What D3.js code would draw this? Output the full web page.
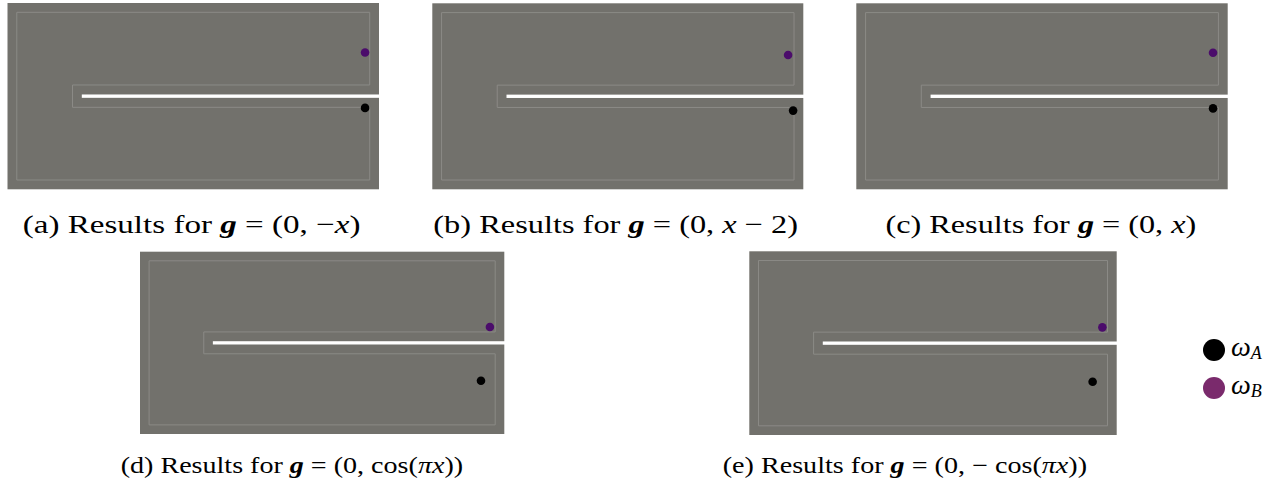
<html><head>
<title>Results panels</title>
<script src="https://d3js.org/d3.v7.min.js"></script>
<style>
  body { margin: 0; background: #fff; }
  .domain { fill: #72716c; }
  .slit { fill: #fff; }
  .outline { fill: none; stroke: #8b8a86; stroke-width: 1px; }
  .caption { font-family: "Liberation Serif", "DejaVu Serif", serif; font-size: 24px; fill: #000; }
  .legend text { font-family: "Liberation Serif", "DejaVu Serif", serif; fill: #000; }
</style>
</head>
<body>
<svg id="fig" width="1281" height="493"></svg>
<script>

// panel ids, in reading order
const panelIds = ["a", "b", "c", "d", "e"];

// position of the two points in each panel (domain is [0,2] x [0,1], y up)
const omegaA = [[1.925, 0.437], [1.945, 0.423], [1.921, 0.435], [1.872, 0.292], [1.869, 0.290]];
const omegaB = [[1.925, 0.734], [1.918, 0.722], [1.921, 0.734], [1.921, 0.587], [1.922, 0.586]];

// crack runs from x=0.4 to the right edge along y=0.5
const crackStart = 0.4;
const crackY = 0.5;
const crackHalf = 0.009;

// inner outline (thin line drawn inside the domain)
const outlinePts = [[0.05, 0.95], [1.95, 0.95], [1.95, 0.56], [0.35, 0.56], [0.35, 0.44],
                    [1.95, 0.44], [1.95, 0.05], [0.05, 0.05]];

// captions as [text, style] pieces; n = normal, i = italic, bi = bold italic
const captions = [
  [["(a) Results for ", "n"], ["g", "bi"], [" = (0, \u2212", "n"], ["x", "i"], [")", "n"]],
  [["(b) Results for ", "n"], ["g", "bi"], [" = (0, ", "n"], ["x", "i"], [" \u2212 2)", "n"]],
  [["(c) Results for ", "n"], ["g", "bi"], [" = (0, ", "n"], ["x", "i"], [")", "n"]],
  [["(d) Results for ", "n"], ["g", "bi"], [" = (0, cos(", "n"], ["\u03c0x", "i"], ["))", "n"]],
  [["(e) Results for ", "n"], ["g", "bi"], [" = (0, \u2212 cos(", "n"], ["\u03c0x", "i"], ["))", "n"]]
];

const legendLabels = ["A", "B"];
const legendColors = ["#000000", "#7a2a6c"];
const dotColors = { A: "#000000", B: "#4b0c6b" };

// layout of each panel on the page (pixels); top-row captions are set a little larger
const layout = [
  { x: 7.5,   y: 3,     w: 371.5, h: 186.3, cx: 22.7,  cy: 233, cw: 338,   fs: 26 },
  { x: 432.3, y: 3.3,   w: 371,   h: 186,   cx: 433.3, cy: 233, cw: 365,   fs: 26 },
  { x: 856.3, y: 3.3,   w: 371.4, h: 186,   cx: 885.5, cy: 233, cw: 311,   fs: 26 },
  { x: 140,   y: 251.7, w: 364.3, h: 182.3, cx: 120.7, cy: 473, cw: 342.6, fs: 23.5 },
  { x: 749.3, y: 251.3, w: 367.4, h: 183.7, cx: 722.7, cy: 473, cw: 364.6, fs: 23.5 }
];

const svg = d3.select("#fig");

panelIds.forEach((id, i) => {
  const L = layout[i];
  const x = d3.scaleLinear().domain([0, 2]).range([L.x, L.x + L.w]);
  const y = d3.scaleLinear().domain([0, 1]).range([L.y + L.h, L.y]);
  const g = svg.append("g").attr("class", "panel panel-" + id);

  // gray domain
  g.append("rect").attr("class", "domain")
    .attr("x", x(0)).attr("y", y(1))
    .attr("width", x(2) - x(0)).attr("height", y(0) - y(1));

  // the crack
  g.append("rect").attr("class", "slit")
    .attr("x", x(crackStart)).attr("y", y(crackY + crackHalf))
    .attr("width", x(2) - x(crackStart) + 2)
    .attr("height", y(crackY - crackHalf) - y(crackY + crackHalf));

  // thin inner outline
  const line = d3.line().x(d => x(d[0])).y(d => y(d[1]));
  g.append("path").attr("class", "outline")
    .attr("d", line(outlinePts) + "Z");

  // the two points
  const pts = [{ k: "B", p: omegaB[i] }, { k: "A", p: omegaA[i] }];
  g.selectAll("circle").data(pts).enter().append("circle")
    .attr("cx", d => x(d.p[0]))
    .attr("cy", d => y(d.p[1]))
    .attr("r", 4.3)
    .attr("fill", d => dotColors[d.k]);

  // caption: Times is narrower than Computer Modern, so widen it horizontally to fit
  const t = svg.append("text").attr("class", "caption").style("font-size", L.fs + "px");
  captions[i].forEach(part => {
    const s = t.append("tspan").text(part[0]);
    if (part[1] === "i") s.attr("font-style", "italic");
    if (part[1] === "bi") s.attr("font-style", "italic").attr("font-weight", "bold");
  });
  const natural = t.node().getComputedTextLength();
  const sx = L.cw / natural;
  t.attr("transform", `translate(${L.cx},${L.cy}) scale(${sx},1)`);
});

// legend
const leg = svg.append("g").attr("class", "legend");
const ly = d3.scalePoint().domain(legendLabels).range([350, 388]);
legendLabels.forEach((lab, i) => {
  leg.append("circle")
    .attr("cx", 1214).attr("cy", ly(lab)).attr("r", 11)
    .attr("fill", legendColors[i]);
  const t = leg.append("text").attr("x", 1231).attr("y", ly(lab) + 6)
    .attr("font-size", 28).attr("font-style", "italic");
  t.append("tspan").text("\u03c9");
  t.append("tspan").text(lab).attr("font-size", 18).attr("dy", 3);
});

</script>
</body>
</html>
